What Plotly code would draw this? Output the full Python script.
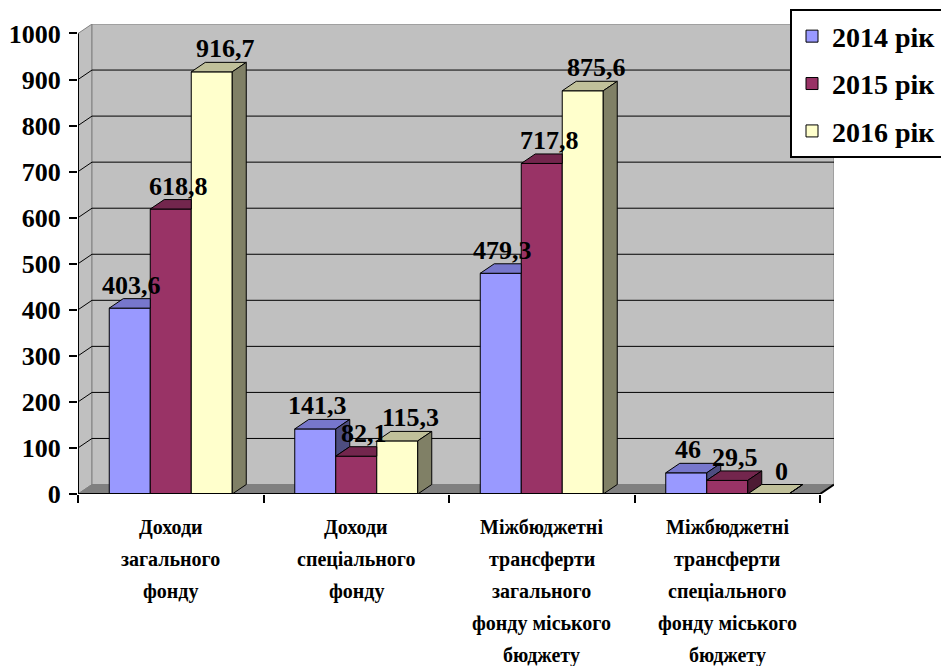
import plotly.graph_objects as go

# ---------------- data ----------------
categories = [
    "Доходи<br>загального<br>фонду",
    "Доходи<br>спеціального<br>фонду",
    "Міжбюджетні<br>трансферти<br>загального<br>фонду міського<br>бюджету",
    "Міжбюджетні<br>трансферти<br>спеціального<br>фонду міського<br>бюджету",
]
series_names = ["2014 рік", "2015 рік", "2016 рік"]
values_2014 = [403.6, 141.3, 479.3, 46]
values_2015 = [618.8, 82.1, 717.8, 29.5]
values_2016 = [916.7, 115.3, 875.6, 0]
y_ticks = [0, 100, 200, 300, 400, 500, 600, 700, 800, 900, 1000]

# ---------------- style ----------------
front_colors = ["#9999FF", "#993366", "#FFFFCC"]
top_colors = ["#7777CC", "#73264D", "#C0C09A"]
side_colors = ["#4D4D80", "#4D1A33", "#808066"]
WALL = "#C0C0C0"
FLOOR = "#808080"
EDGE = "#808080"
FONT = "Liberation Serif"

DX = 0.0755      # depth offset in category units
DY = 20.6        # depth offset in value units
BAR_W = 0.221    # bar width in category units
N = len(categories)
YMAX = y_ticks[-1]

series = [values_2014, values_2015, values_2016]
xpos = [i + 0.5 for i in range(N)]

fig = go.Figure()


def fmt(v):
    return f"{v:g}".replace(".", ",")


# front faces as real bars
for k, (name, vals) in enumerate(zip(series_names, series)):
    fig.add_trace(go.Bar(
        x=xpos, y=vals, name=name,
        marker=dict(color=front_colors[k], line=dict(color="black", width=1)),
        legendgroup=name, showlegend=True, hoverinfo="y+name",
    ))

# top and side faces (3D look), computed from the same values
for k, vals in enumerate(series):
    tx, ty, sx, sy = [], [], [], []
    for i in range(N):
        c = xpos[i] + (k - 1) * BAR_W
        xl, xr = c - BAR_W / 2, c + BAR_W / 2
        h = vals[i]
        h2 = series[k + 1][i] if k + 1 < len(series) else None
        # top face
        if h2 is None or h2 <= h:
            pts = [(xl, h), (xr, h), (xr + DX, h + DY), (xl + DX, h + DY)]
        else:
            h2c = min(h2, h + DY)
            pts = [(xl, h), (xr, h), (xr, h2c),
                   (xr + DX * (h + DY - h2c) / DY, h + DY), (xl + DX, h + DY)]
        pts.append(pts[0])
        tx += [p[0] for p in pts] + [None]
        ty += [p[1] for p in pts] + [None]
        # side face
        if h2 is None:
            pts = [(xr, 0), (xr + DX, DY), (xr + DX, h + DY), (xr, h)]
        elif h2 < h:
            pts = [(xr, h2), (xr + DX, h2 + DY), (xr + DX, h + DY), (xr, h)]
        else:
            pts = None
        if pts:
            pts.append(pts[0])
            sx += [p[0] for p in pts] + [None]
            sy += [p[1] for p in pts] + [None]
    fig.add_trace(go.Scatter(x=tx, y=ty, mode="lines", fill="toself",
                             fillcolor=top_colors[k], line=dict(color="black", width=1),
                             hoverinfo="skip", showlegend=False))
    if sx:
        fig.add_trace(go.Scatter(x=sx, y=sy, mode="lines", fill="toself",
                                 fillcolor=side_colors[k], line=dict(color="black", width=1),
                                 hoverinfo="skip", showlegend=False))

shapes = []
# side wall
shapes.append(dict(type="path", xref="x", yref="y", layer="below",
                   path=f"M0,0 L{DX},{DY} L{DX},{YMAX + DY} L0,{YMAX} Z",
                   fillcolor=WALL, line=dict(color=EDGE, width=1)))
# back wall
shapes.append(dict(type="rect", xref="x", yref="y", layer="below",
                   x0=DX, y0=DY, x1=N + DX, y1=YMAX + DY,
                   fillcolor=WALL, line=dict(color=EDGE, width=1)))
# floor
shapes.append(dict(type="path", xref="x", yref="y", layer="below",
                   path=f"M0,0 L{N},0 L{N + DX},{DY} L{DX},{DY} Z",
                   fillcolor=FLOOR, line=dict(color=EDGE, width=1)))
# gridlines
for v in y_ticks[1:-1]:
    shapes.append(dict(type="line", xref="x", yref="y", layer="below",
                       x0=DX, y0=v + DY, x1=N + DX, y1=v + DY,
                       line=dict(color="black", width=1)))
    shapes.append(dict(type="line", xref="x", yref="y", layer="below",
                       x0=0, y0=v, x1=DX, y1=v + DY,
                       line=dict(color="black", width=1)))
# front axis lines
shapes.append(dict(type="line", xref="x", yref="y", layer="above",
                   x0=0, y0=0, x1=0, y1=YMAX, line=dict(color="black", width=2)))
shapes.append(dict(type="line", xref="x", yref="y", layer="above",
                   x0=0, y0=0, x1=N, y1=0, line=dict(color="black", width=2)))
shapes.append(dict(type="line", xref="x", yref="y", layer="above",
                   x0=N, y0=0, x1=N + DX, y1=DY, line=dict(color="black", width=2)))

annotations = []
# data labels
for k, vals in enumerate(series):
    for i in range(N):
        c = xpos[i] + (k - 1) * BAR_W
        annotations.append(dict(
            x=c + DX * (0.15 + 0.4 * k), y=vals[i] + DY, xref="x", yref="y",
            text=fmt(vals[i]), showarrow=False, yanchor="bottom", yshift=-3,
            font=dict(family=FONT, size=26, color="black", weight="bold"),
        ))
# category labels, one line at a time
for i, cat in enumerate(categories):
    for j, line in enumerate(cat.split("<br>")):
        annotations.append(dict(
            x=xpos[i], y=0, xref="x", yref="y", text=line, showarrow=False,
            yanchor="middle", yshift=-(33 + 32 * j),
            font=dict(family=FONT, size=20, color="black", weight="bold"),
        ))

ML, MR, MT, MB = 70, 123, 16, 180
fig.update_layout(
    width=949, height=666,
    margin=dict(l=ML, r=MR, t=MT, b=MB, autoexpand=False),
    paper_bgcolor="white", plot_bgcolor="white",
    barmode="group", bargap=1 - 3 * BAR_W, bargroupgap=0,
    shapes=shapes, annotations=annotations,
    font=dict(family=FONT, color="black"),
    legend=dict(
        x=(782 - ML) / (949 - ML - MR), y=1.031, xanchor="left", yanchor="top",
        bgcolor="white", bordercolor="black", borderwidth=2,
        font=dict(family=FONT, size=28, color="black", weight="bold"),
        traceorder="grouped", tracegroupgap=8,
    ),
    xaxis=dict(range=[0, N + DX], tickvals=list(range(N + 1)), ticks="outside",
               ticklen=8, tickwidth=2, tickcolor="black", showticklabels=False,
               showgrid=False, zeroline=False, showline=False, fixedrange=True),
    yaxis=dict(range=[0, YMAX + DY], tickvals=y_ticks, ticks="outside",
               ticklen=8, tickwidth=2, tickcolor="black", showgrid=False,
               zeroline=False, showline=False, ticklabelstandoff=3,
               tickfont=dict(family=FONT, size=26, color="black", weight="bold"),
               fixedrange=True),
)

fig.write_html("out.html")
